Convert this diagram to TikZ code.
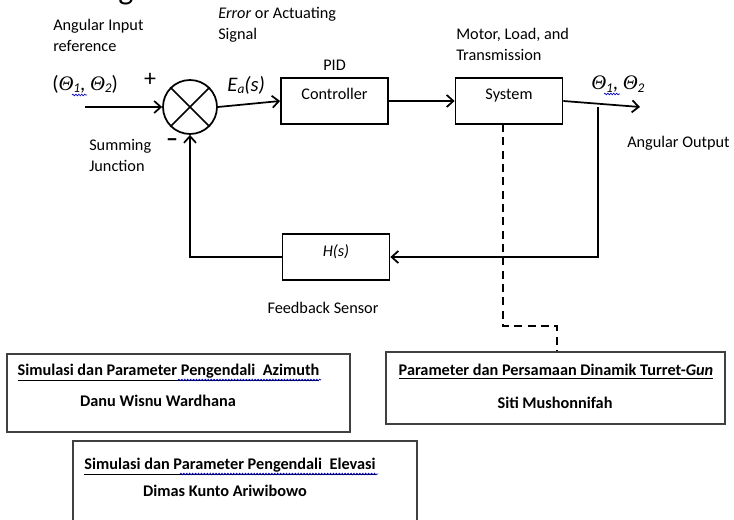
\documentclass[tikz,border=0pt]{standalone}
\usepackage{fontspec}
\setmainfont{Carlito}
\newfontfamily\thetafont{Liberation Serif}
\usetikzlibrary{arrows.meta,decorations.pathmorphing}
\begin{document}
\begin{tikzpicture}[x=0.75pt,y=-0.75pt,
  txt/.style={inner sep=0pt,font=\fontsize{12.2}{14}\selectfont,text height=8.5pt,text depth=2.7pt},
  big/.style={inner sep=0pt,font=\fontsize{15.5}{17}\selectfont},
  blk/.style={draw,line width=1.3pt,minimum width=80.25pt,minimum height=34.5pt,inner sep=0pt},
  arr/.style={line width=1.3pt,-{Straight Barb[length=5pt,width=9pt,line width=1.3pt]}},
  ln/.style={line width=1.3pt},
  dashline/.style={line width=1.3pt,dash pattern=on 6pt off 4pt},
  tbox/.style={draw=black!75,line width=0.9pt,inner sep=0pt},
  spell/.style={blue!80!black,line width=0.5pt,decorate,decoration={snake,amplitude=0.6pt,segment length=2.2pt}},
  ttl/.style={txt,font=\fontsize{12.2}{14}\selectfont\bfseries}
]
\useasboundingbox (0,0) rectangle (734,520);
\clip (0,0) rectangle (734,520);

% cropped heading fragment
\node[inner sep=0pt,anchor=base,font=\fontsize{24}{26}\selectfont] (head) at (126,0) {g};

% labels
\node[txt,anchor=west] (ai1) at (53,27) {Angular Input};
\node[txt,anchor=west] (ai2) at (53,48) {reference};
\node[txt,anchor=west] (er1) at (218,15) {\textit{Error} or Actuating};
\node[txt,anchor=west] (er2) at (218,36) {Signal};
\node[txt,anchor=west] (mo1) at (456,36) {Motor, Load, and};
\node[txt,anchor=west] (mo2) at (456,57) {Transmission};
\node[big,anchor=west] (thin) at (52,84) {({\thetafont\itshape Θ}{\fontsize{10}{10}\selectfont\raisebox{-2pt}{\itshape 1}}{,} {\thetafont\itshape Θ}{\fontsize{10}{10}\selectfont\raisebox{-2pt}{\itshape 2}})};
\node[big,anchor=west] (thout) at (591,84) {{\thetafont\itshape Θ}{\fontsize{10}{10}\selectfont\raisebox{-2pt}{\itshape 1}}{,} {\thetafont\itshape Θ}{\fontsize{10}{10}\selectfont\raisebox{-2pt}{\itshape 2}}};
\draw[spell] (72,95) -- (87,95);
\draw[spell] (604,94) -- (620,94);
\node[big,anchor=west] (ea) at (227,85) {\textit{E}{\fontsize{10}{10}\selectfont\raisebox{-2pt}{\itshape a}}\textit{(s)}};
\node[inner sep=0pt,font=\fontsize{18}{18}\selectfont] (plus) at (150,80) {+};
\node[inner sep=0pt,font=\fontsize{18}{18}\selectfont\bfseries] (minus) at (172,143) {–};
\node[txt,anchor=west] (sj1) at (89,147) {Summing};
\node[txt,anchor=west] (sj2) at (89,168) {Junction};
\node[txt,anchor=west] (ao) at (627,144) {Angular Output};
\node[txt] (fs) at (323,310) {Feedback Sensor};

% summing junction
\node[draw,circle,line width=1.3pt,minimum size=40.5pt,inner sep=0pt] (sum) at (190,107) {};
\draw[ln] (sum.north west) -- (sum.south east);
\draw[ln] (sum.north east) -- (sum.south west);

% blocks
\node[blk] (ctrl) at (334.5,101) {};
\node[txt] (ctrlt) at (334.5,96) {Controller};
\node[txt] (pid) at (334.5,67) {PID};
\node[blk] (sys) at (509,101) {};
\node[txt] (syst) at (509,96) {System};
\node[blk] (hs) at (336,257) {};
\node[txt] (hst) at (336,253) {\textit{H(s)}};

% connectors
\coordinate (inp) at (85,107);
\coordinate (out) at (640,107);
\coordinate (br) at (598,107);
\coordinate (brd) at (598,257);
\coordinate (fbl) at (190,257);
\draw[arr] (inp) -- (sum.west);
\draw[arr] (sum.east) -- (ctrl.west);
\draw[arr] (ctrl.east) -- (sys.west);
\draw[arr] (sys.east) -- (out);
\draw[arr] (br) -- (brd) -- (hs.east);
\draw[arr] (hs.west) -- (fbl) -- (sum.south);

% bottom boxes
\node[tbox,minimum width=257.25pt,minimum height=58.5pt] (az) at (178.5,393) {};
\node[ttl] (azt) at (168.5,372) {\underline{Simulasi dan Parameter Pengendali\ \ Azimuth}};
\draw[spell] (178,380) -- (321,380);
\node[ttl] (azn) at (158,403) {Danu Wisnu Wardhana};

\node[tbox,minimum width=254.25pt,minimum height=54pt] (tg) at (555.5,388) {};
\node[ttl] (tgt) at (556,372) {\underline{Parameter dan Persamaan Dinamik Turret-\textit{Gun}}};
\node[ttl] (tgn) at (555,405) {Siti Mushonnifah};

\node[tbox,minimum width=258pt,minimum height=63pt] (el) at (245,483) {};
\node[ttl] (elt) at (230,466) {\underline{Simulasi dan Parameter Pengendali\ \ Elevasi}};
\draw[spell] (180,474) -- (378,474);
\node[ttl] (eln) at (225,493) {Dimas Kunto Ariwibowo};

% dashed link
\coordinate (d0) at (503,124);
\coordinate (d1) at (503,326);
\coordinate (d2) at (557,326);
\draw[dashline] (d0) -- (d1) -- (d2) -- (d2 |- tg.north);
\end{tikzpicture}
\end{document}
